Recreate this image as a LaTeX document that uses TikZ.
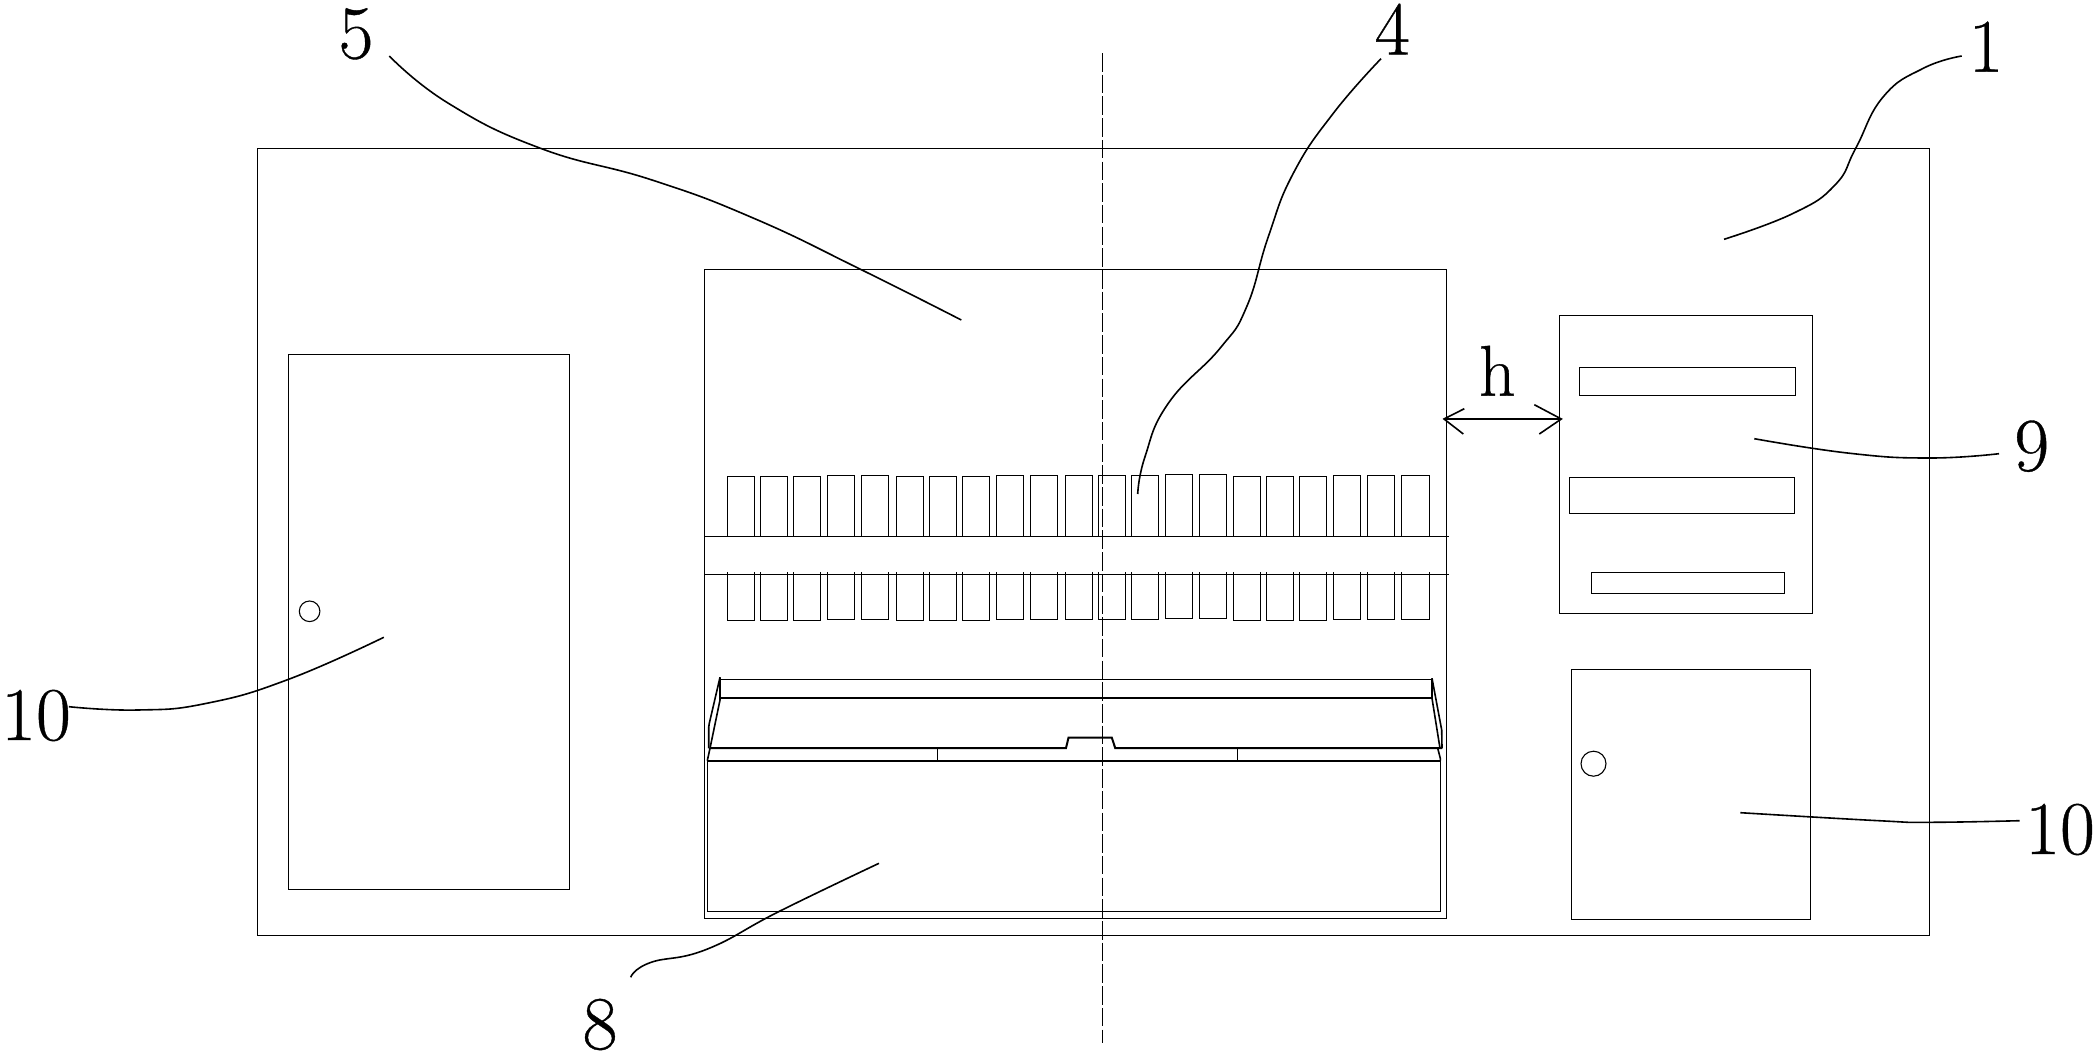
\documentclass[tikz,border=0pt]{standalone}
\usepackage{fontspec}
\setmainfont{Latin Modern Roman}
\tikzset{
  thin line/.style={line width=1.1pt,line cap=rect,line join=miter},
  heavy line/.style={line width=2pt,line join=miter},
  leader/.style={line width=1.6pt,smooth,tension=0.8},
  callout/.style={inner sep=0pt,outer sep=0pt,anchor=base,font=\fontsize{76}{76}\selectfont\addfontfeature{FakeBold=0.5}},
  centre line/.style={line width=1.1pt,dash pattern=on 18.5pt off 3.2pt}
}
\begin{document}
\begin{tikzpicture}[x=1pt,y=-1pt]
\useasboundingbox (0,0) rectangle (2099,1060);
% outer panel
\draw[thin line] (257.5,148.3) rectangle (1929.3,935.3);
% left door
\draw[thin line] (288.6,354.3) rectangle (569.5,889.5);
\draw[thin line] (309.6,611.3) circle (10.3);
% central unit
\draw[thin line] (704.7,269.3) rectangle (1446.7,918.3);
\draw[thin line] (704.7,536.3) -- (1448.7,536.3);
\draw[thin line] (704.7,574.3) -- (1448.7,574.3);
% cell rows
\foreach \xa/\xb/\ya/\yb in {
 727.3/754.7/476.3/620.3, 760.3/787.7/476.3/620.3, 793.3/820.7/476.3/620.3,
 827.3/854.7/475.3/619.3, 861.3/888.7/475.3/619.3, 896.3/923.7/476.3/620.3,
 929.3/956.7/476.3/620.3, 962.3/989.7/476.3/620.3, 996.3/1023.7/475.3/619.3,
 1030.3/1057.7/475.3/619.3, 1065.3/1092.7/475.3/619.3, 1098.3/1125.7/475.3/619.3,
 1131.3/1158.7/475.3/619.3, 1165.3/1192.7/474.3/618.3, 1199.3/1226.7/474.3/618.3,
 1233.3/1260.7/476.3/620.3, 1266.3/1293.7/476.3/620.3, 1299.3/1326.7/476.3/620.3,
 1333.3/1360.7/475.3/619.3, 1367.3/1394.7/475.3/619.3, 1401.3/1429.7/475.3/619.3}{
  \draw[thin line] (\xa,536.3) -- (\xa,\ya) -- (\xb,\ya) -- (\xb,536.3);
  \draw[thin line] (\xa,573) -- (\xa,\yb) -- (\xb,\yb) -- (\xb,573);
}
% tray
\draw[thin line] (707.3,761) rectangle (1440.7,911.3);
\draw[heavy line] (707.3,761) -- (1440.7,761);
\draw[thin line] (720,679.3) -- (1432,679.3);
\draw[heavy line] (720,698) -- (1432,698);
\draw[heavy line] (710,748) -- (1066,748) -- (1068.5,737.7) -- (1111.8,737.7) -- (1115.2,748) -- (1442,748);
\draw[thin line] (937.3,748) -- (937.3,761);
\draw[thin line] (1237.3,748) -- (1237.3,761);
\draw[heavy line,line width=1.6pt] (720,677.3) -- (709.3,723.3) -- (708.7,727.3) -- (708.7,748.3);
\draw[heavy line,line width=1.6pt] (720,677.3) -- (720,700) -- (710,748.3) -- (707.3,760.7);
\draw[heavy line,line width=1.6pt] (1432,678.3) -- (1441.7,730) -- (1442,748.3);
\draw[heavy line,line width=1.6pt] (1432,678.3) -- (1432,698.3) -- (1440,748.3);
\draw[heavy line,line width=1.6pt] (1437.7,748.3) -- (1440.3,758.3) -- (1440.3,760.7);
% right panel 9
\draw[thin line] (1559.3,315.3) rectangle (1812.5,613.3);
\draw[thin line] (1579.3,367.3) rectangle (1795.7,395.3);
\draw[thin line] (1569.3,477.3) rectangle (1794.7,513.3);
\draw[thin line] (1591.3,572.3) rectangle (1784.7,593.3);
% right door
\draw[thin line] (1571.4,669.3) rectangle (1810.2,919.3);
\draw[thin line] (1593.5,763.7) circle (12.5);
% centre line
\draw[centre line] (1102.5,53) -- (1102.5,1043);
% dimension h
\coordinate (dimL) at (1444,419);
\coordinate (dimR) at (1561.3,419);
\draw[heavy line] (dimL) -- (dimR);
\draw[line width=1.6pt] (1464.3,408.7) -- (dimL) -- (1463.3,434);
\draw[line width=1.6pt] (1534.3,404.7) -- (dimR) -- (1539.3,434);
\node[callout,font=\fontsize{72}{72}\selectfont\addfontfeature{FakeBold=0.5}] (lh) at (1497.3,395.7) {h};
% callout labels
\node[callout] (l5) at (356,58.3) {5};
\node[callout] (l4) at (1392.3,54.5) {4};
\node[callout] (l1) at (1986,71.7) {1};
\node[callout] (l9) at (2031.7,470.7) {9};
\node[callout] (l10a) at (36,740) {10};
\node[callout] (l10b) at (2060,854) {10};
\node[callout] (l8) at (600,1049) {8};
% leaders
\draw[leader] plot coordinates {(389.3,56) (448.4,103.3) (540.5,148.3) (652,180) (753.8,218.3) (860.5,269.3) (961.3,320)};
\draw[leader] plot coordinates {(1381,58.7) (1333.3,113.3) (1293.3,173.3) (1268.3,236.7) (1246.7,306.7) (1220,348.3) (1168.3,403.3) (1145,456.7) (1137.7,494)};
\draw[leader] plot coordinates {(1961.7,56) (1923.3,68.3) (1883.3,96.7) (1855.7,148.3) (1835,185) (1793.3,213.3) (1724,239.3)};
\draw[leader] plot coordinates {(1754.3,438.7) (1850,453.3) (1929.3,458) (1999,453.7)};
\draw[leader] plot coordinates {(68.9,706.7) (138,710) (206.7,703.3) (288.6,679.3) (383.8,637.3)};
\draw[leader] plot coordinates {(1740.4,812.7) (1878.7,820.7) (1929.3,822.3) (2019.5,820.7)};
\draw[leader] plot coordinates {(879,863.3) (780,911) (706.7,949.3) (650,962.7) (630.7,977.3)};
\end{tikzpicture}
\end{document}
